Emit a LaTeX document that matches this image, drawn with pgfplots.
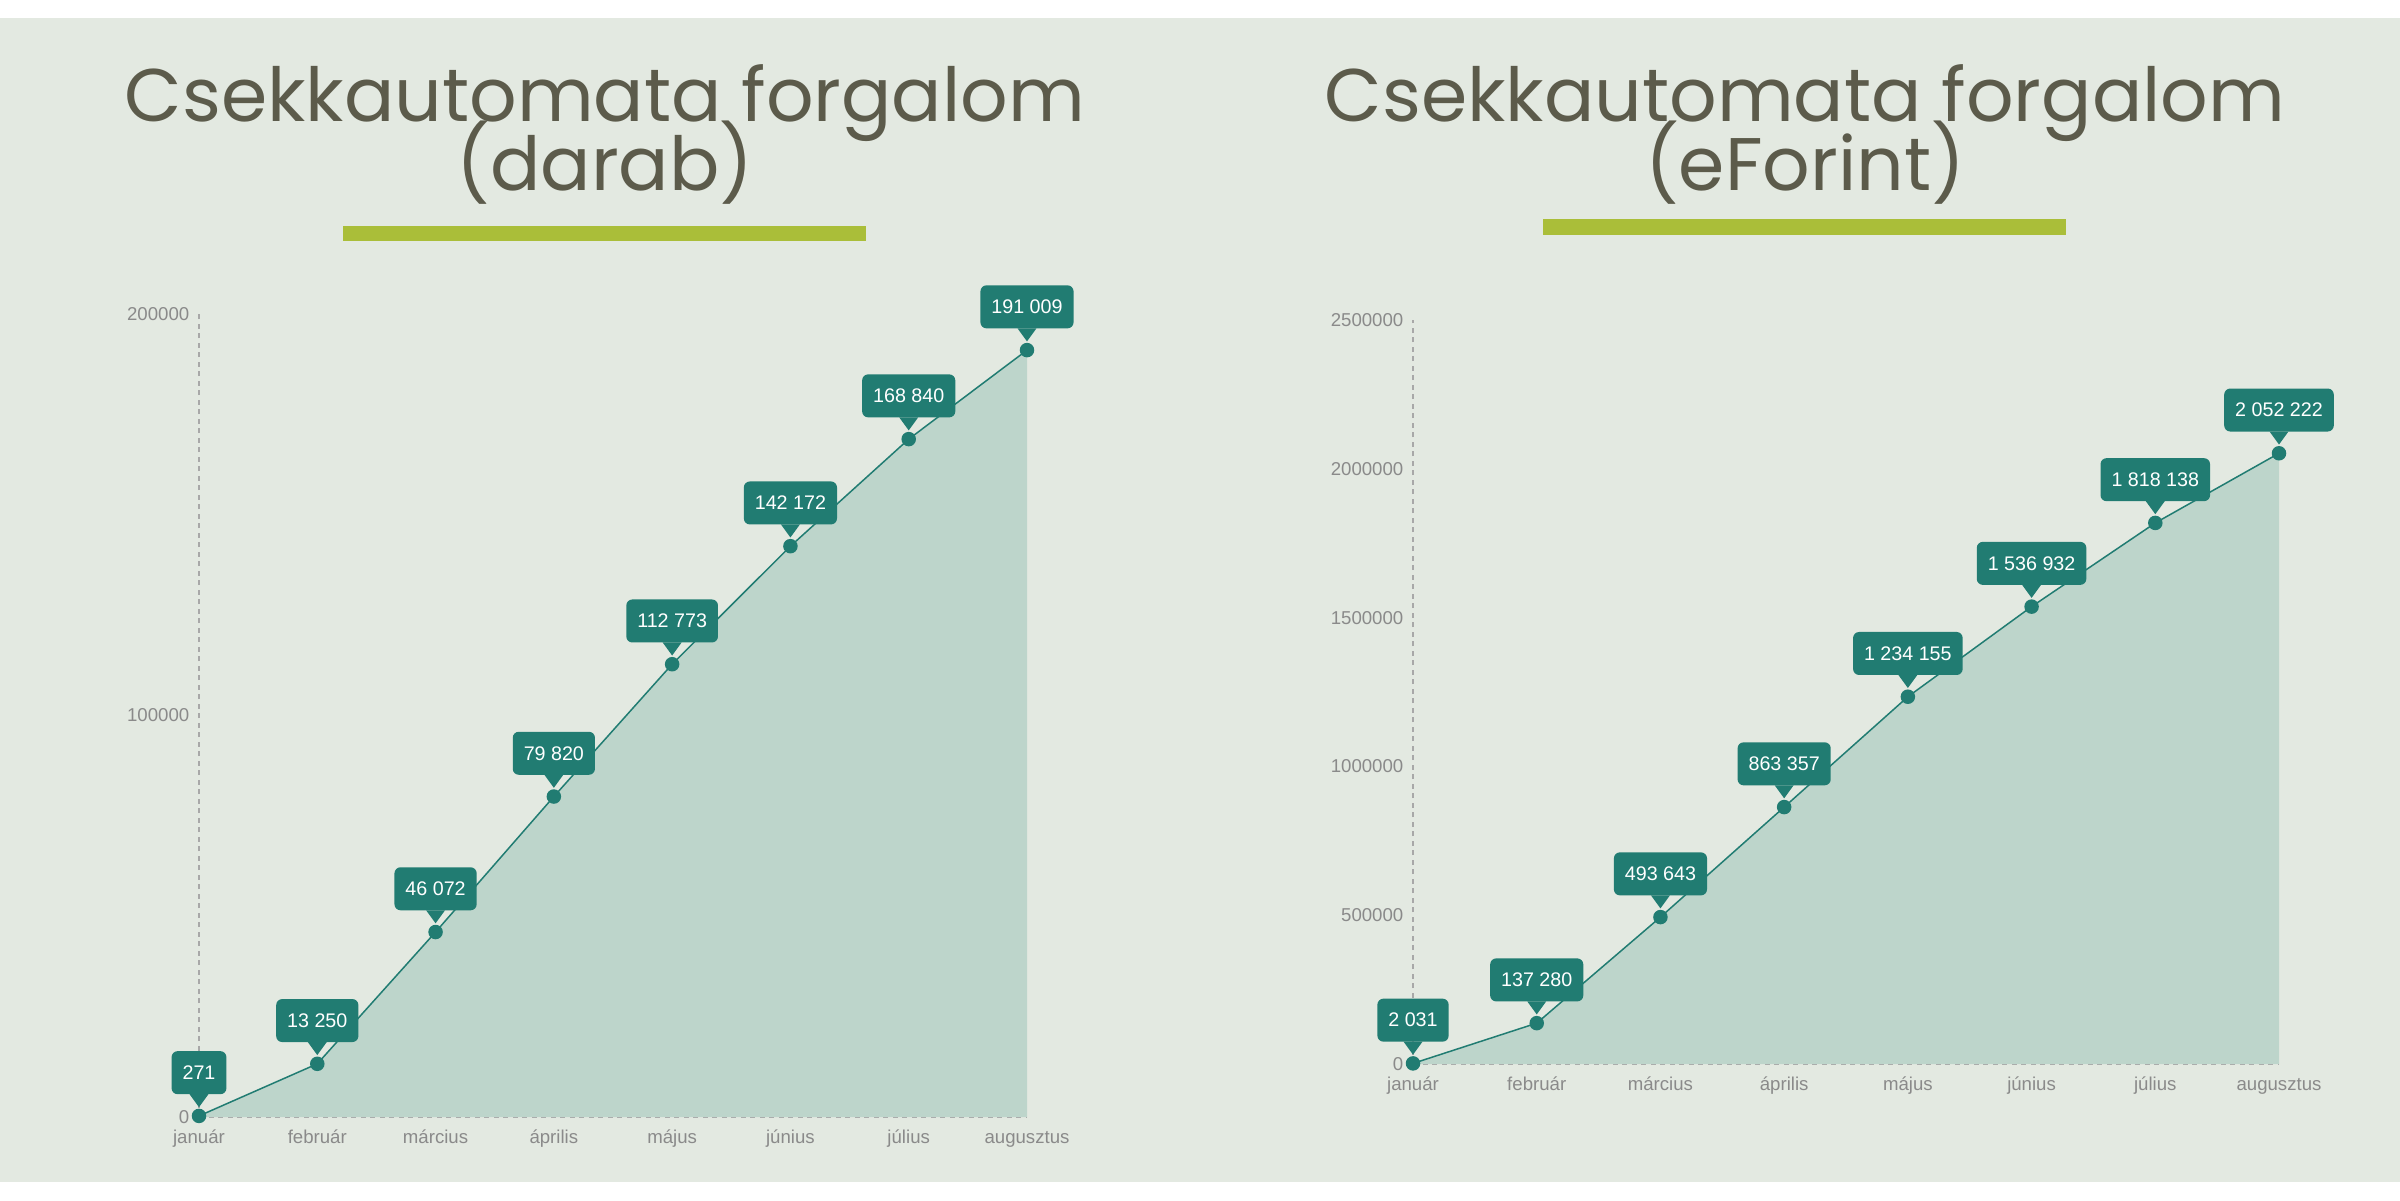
\documentclass[border=0pt]{standalone}
\usepackage{pgfplots}
\pgfplotsset{compat=1.18}
\usepackage{fontspec}
\setmainfont{Liberation Sans}
\newfontfamily\titlefont{Poppins}

\definecolor{bgcol}{HTML}{E3E9E1}
\definecolor{areacol}{HTML}{BDD5CB}
\definecolor{tealcol}{HTML}{217C72}
\definecolor{titlecol}{HTML}{5C5B4B}
\definecolor{barcol}{HTML}{AABE39}
\definecolor{tickcol}{HTML}{8A8A8A}
\definecolor{dashcol}{HTML}{A8A8A8}

\pgfplotsset{
  panel/.style={
    scale only axis,
    clip=false,
    xmin=0, xmax=7,
    ymin=0,
    scaled y ticks=false,
    axis x line=bottom, axis y line=left,
    axis line style={-, dashcol, line width=0.012cm, dash pattern=on 0.05cm off 0.045cm},
    major tick length=0pt,
    xtick={0,...,7},
    xticklabels={január,február,március,április,május,június,július,augusztus},
    ticklabel style={font=\fontsize{5.3}{6}\selectfont, text=tickcol, inner sep=0pt},
    xticklabel style={anchor=base, yshift=-0.26cm},
    yticklabel style={anchor=east, xshift=-0.09cm},
  },
  callout/.style={
    nodes near coords,
    point meta=explicit symbolic,
    every node near coord/.style={
      anchor=south, yshift=0.21cm,
      fill=tealcol, rounded corners=0.06cm,
      text=white, font=\fontsize{5.6}{6}\selectfont,
      minimum height=0.43cm, inner xsep=0.11cm, inner ysep=0pt,
      append after command={\pgfextra{\fill[tealcol] ([xshift=-0.08cm]\tikzlastnode.south) -- ([xshift=0.08cm]\tikzlastnode.south) -- ([yshift=-0.11cm]\tikzlastnode.south) -- cycle;}}
    }
  },
}

\begin{document}
\begin{tikzpicture}
\fill[white] (0,0) rectangle (24,12);
\fill[bgcol] (0,0.18) rectangle (24,11.82);

% titles
\node[anchor=base, text=titlecol, font=\titlefont\fontsize{21.2}{24}\selectfont] at (6.05,10.78) {Csekkautomata forgalom};
\node[anchor=base, text=titlecol, font=\titlefont\fontsize{21.2}{24}\selectfont] at (6.05,10.09) {(darab)};
\fill[barcol] (3.43,9.59) rectangle (8.66,9.74);

\node[anchor=base, text=titlecol, font=\titlefont\fontsize{21.2}{24}\selectfont] at (18.05,10.78) {Csekkautomata forgalom};
\node[anchor=base, text=titlecol, font=\titlefont\fontsize{21.2}{24}\selectfont] at (18.05,10.09) {(eForint)};
\fill[barcol] (15.43,9.65) rectangle (20.66,9.81);

% left chart
\begin{axis}[panel,
  at={(1.99cm,0.83cm)}, anchor=south west,
  width=8.28cm, height=8.03cm,
  ymax=200000,
  ytick={0,100000,200000},
  yticklabels={0,100000,200000},
]
\addplot[fill=areacol, draw=none] coordinates {
  (0,271) (1,13250) (2,46072) (3,79820) (4,112773) (5,142172) (6,168840) (7,191009)
} \closedcycle;
\addplot[tealcol, line width=0.015cm, mark=*, mark size=1.85pt, callout] coordinates {
  (0,271) [271]
  (1,13250) [13 250]
  (2,46072) [46 072]
  (3,79820) [79 820]
  (4,112773) [112 773]
  (5,142172) [142 172]
  (6,168840) [168 840]
  (7,191009) [191 009]
};
\end{axis}

% right chart
\begin{axis}[panel,
  at={(14.13cm,1.36cm)}, anchor=south west,
  width=8.66cm, height=7.44cm,
  ymax=2500000,
  ytick={0,500000,1000000,1500000,2000000,2500000},
  yticklabels={0,500000,1000000,1500000,2000000,2500000},
]
\addplot[fill=areacol, draw=none] coordinates {
  (0,2031) (1,137280) (2,493643) (3,863357) (4,1234155) (5,1536932) (6,1818138) (7,2052222)
} \closedcycle;
\addplot[tealcol, line width=0.015cm, mark=*, mark size=1.85pt, callout] coordinates {
  (0,2031) [2 031]
  (1,137280) [137 280]
  (2,493643) [493 643]
  (3,863357) [863 357]
  (4,1234155) [1 234 155]
  (5,1536932) [1 536 932]
  (6,1818138) [1 818 138]
  (7,2052222) [2 052 222]
};
\end{axis}
\end{tikzpicture}
\end{document}
